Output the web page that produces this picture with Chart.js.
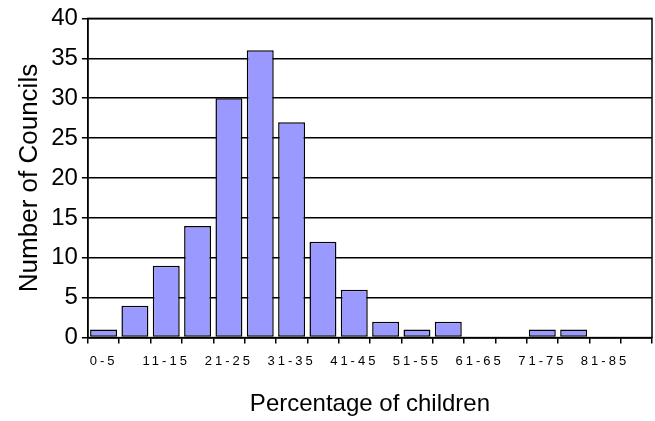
<!DOCTYPE html>
<html>
<head>
<meta charset="utf-8">
<script src="https://cdn.jsdelivr.net/npm/chart.js@4/dist/chart.umd.min.js"></script>
<style>
  html, body { margin: 0; padding: 0; background: #fff; }
  #wrap { width: 655px; height: 421px; }
</style>
</head>
<body>
<div id="wrap"><canvas id="chart"></canvas></div>
<script>
/* ===================== DATA ===================== */

const categories = [
  "0-5","6-10","11-15","16-20","21-25","26-30","31-35","36-40","41-45",
  "46-50","51-55","56-60","61-65","66-70","71-75","76-80","81-85","86-90"
];
const councils = [1, 4, 9, 14, 30, 36, 27, 12, 6, 2, 1, 2, 0, 0, 1, 1, 0, 0];
const yTicks = [0, 5, 10, 15, 20, 25, 30, 35, 40];

const xTitle = "Percentage of children";
const yTitle = "Number of Councils";

/* ===================== PLUGINS ===================== */

// box round the plot, like the old spreadsheet chart
const frame = {
  id: "frame",
  afterDraw(chart) {
    const a = chart.chartArea;
    const ctx = chart.ctx;
    ctx.save();
    ctx.strokeStyle = "#000";
    ctx.lineWidth = 1.5;
    ctx.strokeRect(a.left, a.top, a.right - a.left, a.bottom - a.top);
    ctx.restore();
  }
};

// spaced out x labels
const spacedLabels = {
  id: "spacedLabels",
  beforeDraw(chart) {
    const sx = chart.scales.x;
    if (!sx || sx._spaced) return;
    const orig = sx.drawLabels;
    sx.drawLabels = function(area) {
      this.ctx.save();
      this.ctx.letterSpacing = "3px";
      orig.call(this, area);
      this.ctx.restore();
    };
    sx._spaced = true;
  }
};

/* ===================== CHART ===================== */

new Chart(document.getElementById("chart"), {
  type: "bar",
  data: {
    labels: categories,
    datasets: [{
      data: councils,
      backgroundColor: "#9999ff",
      borderColor: "#000",
      borderWidth: 1.5,
      borderSkipped: false,
      categoryPercentage: 1,
      barPercentage: 0.86
    }]
  },
  options: {
    responsive: true,
    maintainAspectRatio: false,
    animation: false,
    layout: { padding: { top: 6, right: 3, left: 14, bottom: 2 } },
    plugins: {
      legend: { display: false },
      tooltip: { enabled: false }
    },
    scales: {
      x: {
        offset: true,
        grid: {
          display: true,
          offset: true,
          drawOnChartArea: false,
          drawTicks: true,
          tickLength: 6,
          color: "#000",
          lineWidth: 1.5
        },
        border: { color: "#000", width: 1.5 },
        ticks: {
          autoSkip: false,
          maxRotation: 0,
          minRotation: 0,
          padding: 10,
          color: "#000",
          font: { family: "Arial, 'Liberation Sans'", size: 13 },
          callback: (v, i) => (i % 2 === 0 ? categories[i] : "")
        },
        title: {
          display: true,
          text: xTitle,
          color: "#000",
          font: { family: "Arial, 'Liberation Sans'", size: 24 },
          padding: { top: 11, bottom: 0 }
        }
      },
      y: {
        min: yTicks[0],
        max: yTicks[yTicks.length - 1],
        afterBuildTicks: scale => {
          scale.ticks = yTicks.map(v => ({ value: v }));
        },
        grid: {
          color: "#000",
          lineWidth: 1.5,
          tickLength: 6
        },
        border: { color: "#000", width: 1.5 },
        ticks: {
          padding: 4,
          color: "#000",
          font: { family: "Arial, 'Liberation Sans'", size: 24 }
        },
        title: {
          display: true,
          text: yTitle,
          color: "#000",
          font: { family: "Arial, 'Liberation Sans'", size: 26 },
          padding: { top: 0, bottom: 2 }
        }
      }
    }
  },
  plugins: [frame, spacedLabels]
});
</script>
</body>
</html>
